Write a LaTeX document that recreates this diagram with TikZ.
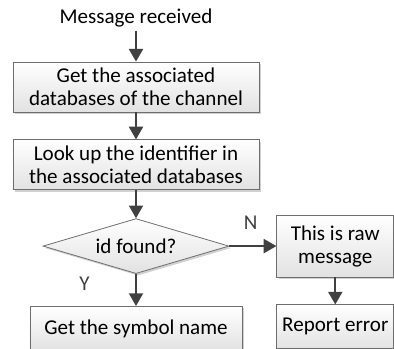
\documentclass[tikz,border=0pt]{standalone}
\usepackage{fontspec}
\setmainfont{Carlito}
\usepackage{tikz}
\usetikzlibrary{arrows.meta,positioning,shapes.geometric,shadows}
\definecolor{linegray}{RGB}{64, 64, 64}
\definecolor{boxedge}{RGB}{110, 110, 110}
\definecolor{boxshade}{RGB}{226, 226, 226}

\begin{document}
\begin{tikzpicture}[x=0.75pt,y=-0.75pt,
      stepbox/.style={rectangle,draw=boxedge,line width=0.6pt,top color=white,bottom color=boxshade,
        drop shadow={shadow xshift=1.5pt,shadow yshift=-1.5pt,fill=black!30,opacity=0.6},
        align=center,inner sep=0pt,font=\fontsize{15.8}{17.4}\selectfont},
      decision/.style={diamond,draw=boxedge,line width=0.6pt,top color=white,bottom color=boxshade,
        drop shadow={shadow xshift=1.5pt,shadow yshift=-1.5pt,fill=black!30,opacity=0.6},
        shape aspect=3.4,inner sep=0pt,minimum width=139.5pt,minimum height=41.25pt,
        font=\fontsize{15.8}{17.4}\selectfont},
      flow/.style={-{Triangle[width=10.5pt,length=9.5pt]},linegray,line width=1.5pt},
      lbl/.style={font=\fontsize{15.8}{17.4}\selectfont,inner sep=0pt}
    ]
    \useasboundingbox (0,0) rectangle (394,349);

    \node[stepbox,minimum width=184.5pt,minimum height=37.5pt] (assoc) at (136,87)
      {Get the associated\\databases of the channel};
    \node[lbl,above=26pt of assoc] (recv) {Message received};
    \node[stepbox,minimum width=184.5pt,minimum height=37.5pt,below=20.25pt of assoc] (lookup)
      {Look up the identifier in\\the associated databases};
    \node[decision,below=21pt of lookup] (found) {id found?};
    \node[stepbox,minimum width=159pt,minimum height=33pt,below=24pt of found] (symbol)
      {Get the symbol name};
    \node[stepbox,minimum width=87.75pt,minimum height=46.5pt,right=35.25pt of found] (raw)
      {This is raw\\message};
    \node[stepbox,minimum width=87.75pt,minimum height=33pt,below=20.25pt of raw] (report)
      {Report error};

    \draw[flow] ([yshift=-3pt]recv.south) -- (assoc);
    \draw[flow] (assoc) -- (lookup);
    \draw[flow] (lookup) -- (found);
    \draw[flow] (found) -- node[lbl,pos=0.45,above=12pt] {N} (raw);
    \draw[flow] (found) -- node[lbl,pos=0.3,left=34pt] {Y} (symbol);
    \draw[flow] (raw) -- (report);
  \end{tikzpicture}
\end{document}
